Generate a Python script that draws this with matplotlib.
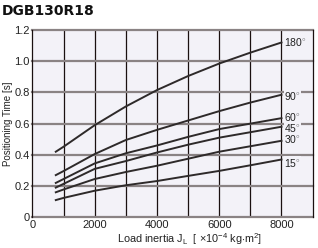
import matplotlib
matplotlib.use("Agg")
import matplotlib.pyplot as plt

# load inertia [x10^-4 kg m^2]
inertia = [750, 1000, 2000, 3000, 4000, 5000, 6000, 7000, 8000]

# positioning time [s] per rotation angle
t_180 = [0.42, 0.452, 0.59, 0.71, 0.815, 0.905, 0.985, 1.055, 1.12]
t_90 = [0.27, 0.296, 0.405, 0.495, 0.56, 0.62, 0.68, 0.735, 0.785]
t_60 = [0.22, 0.245, 0.345, 0.41, 0.46, 0.515, 0.565, 0.60, 0.635]
t_45 = [0.19, 0.214, 0.31, 0.36, 0.415, 0.465, 0.51, 0.545, 0.58]
t_30 = [0.16, 0.178, 0.245, 0.29, 0.33, 0.375, 0.42, 0.455, 0.49]
t_15 = [0.11, 0.124, 0.17, 0.205, 0.232, 0.265, 0.297, 0.333, 0.37]

curves = [("180", t_180), ("90", t_90), ("60", t_60),
          ("45", t_45), ("30", t_30), ("15", t_15)]
label_shift = {"180": 0.0, "90": -0.01, "60": 0.01, "45": -0.01, "30": 0.01, "15": -0.02}

xticks = [0, 2000, 4000, 6000, 8000]
yticks = [0, 0.2, 0.4, 0.6, 0.8, 1.0, 1.2]

plt.rcParams['font.family'] = ['Liberation Sans', 'DejaVu Sans']
plt.rcParams['mathtext.fontset'] = 'custom'
plt.rcParams['mathtext.rm'] = 'Liberation Sans'

fig = plt.figure(figsize=(3.18, 2.48), dpi=100)
ax = fig.add_axes([0.102, 0.124, 0.881, 0.755])
ax.set_facecolor('#f3f2f8')

ax.set_xlim(0, 9000)
ax.set_ylim(0, 1.2)

# grid: vertical black thin, horizontal grey thick
for xv in range(1000, 9000, 1000):
    ax.axvline(xv, color='#1a1010', lw=0.9, zorder=1)
for yv in yticks:
    ax.axhline(yv, color='#8a8384', lw=1.6, zorder=1, clip_on=False)

for lab, ys in curves:
    ax.plot(inertia, ys, color='#2e2a2a', lw=1.4, zorder=3)
    ax.text(8080, ys[-1] + label_shift[lab], lab + "$^{\\circ}$", fontsize=7.5,
            va='center', ha='left', color='#222222', zorder=4,
            bbox=dict(facecolor='#f3f2f8', edgecolor='none', pad=0.2))

ax.spines['top'].set_visible(False)
ax.spines['bottom'].set_visible(False)
ax.spines['left'].set_color('#1a1010')
ax.spines['right'].set_color('#1a1010')
ax.spines['left'].set_linewidth(0.9)
ax.spines['right'].set_linewidth(0.9)

ax.set_xticks(xticks)
ax.set_xticklabels([str(v) for v in xticks], fontsize=8)
ax.set_yticks(yticks)
ax.set_yticklabels(['0', '0.2', '0.4', '0.6', '0.8', '1.0', '1.2'], fontsize=8)
ax.tick_params(length=0, pad=2, colors='#222222')

ax.set_ylabel("Positioning Time [s]", fontsize=7, color='#222222')
ax.yaxis.set_label_coords(-0.07, 0.5)
ax.set_xlabel(r"Load inertia J$_{\rm L}$  [ $\times$10$^{-4}$ kg$\cdot$m$^{2}$]",
              fontsize=7.8, color='#222222')
ax.xaxis.set_label_coords(0.56, -0.075)

fig.text(0.006, 0.955, "DGB130R18", fontsize=10, fontweight='bold',
         family=['DejaVu Sans'], va='center', ha='left', color='#111111')

fig.savefig("out.png", dpi=100)
